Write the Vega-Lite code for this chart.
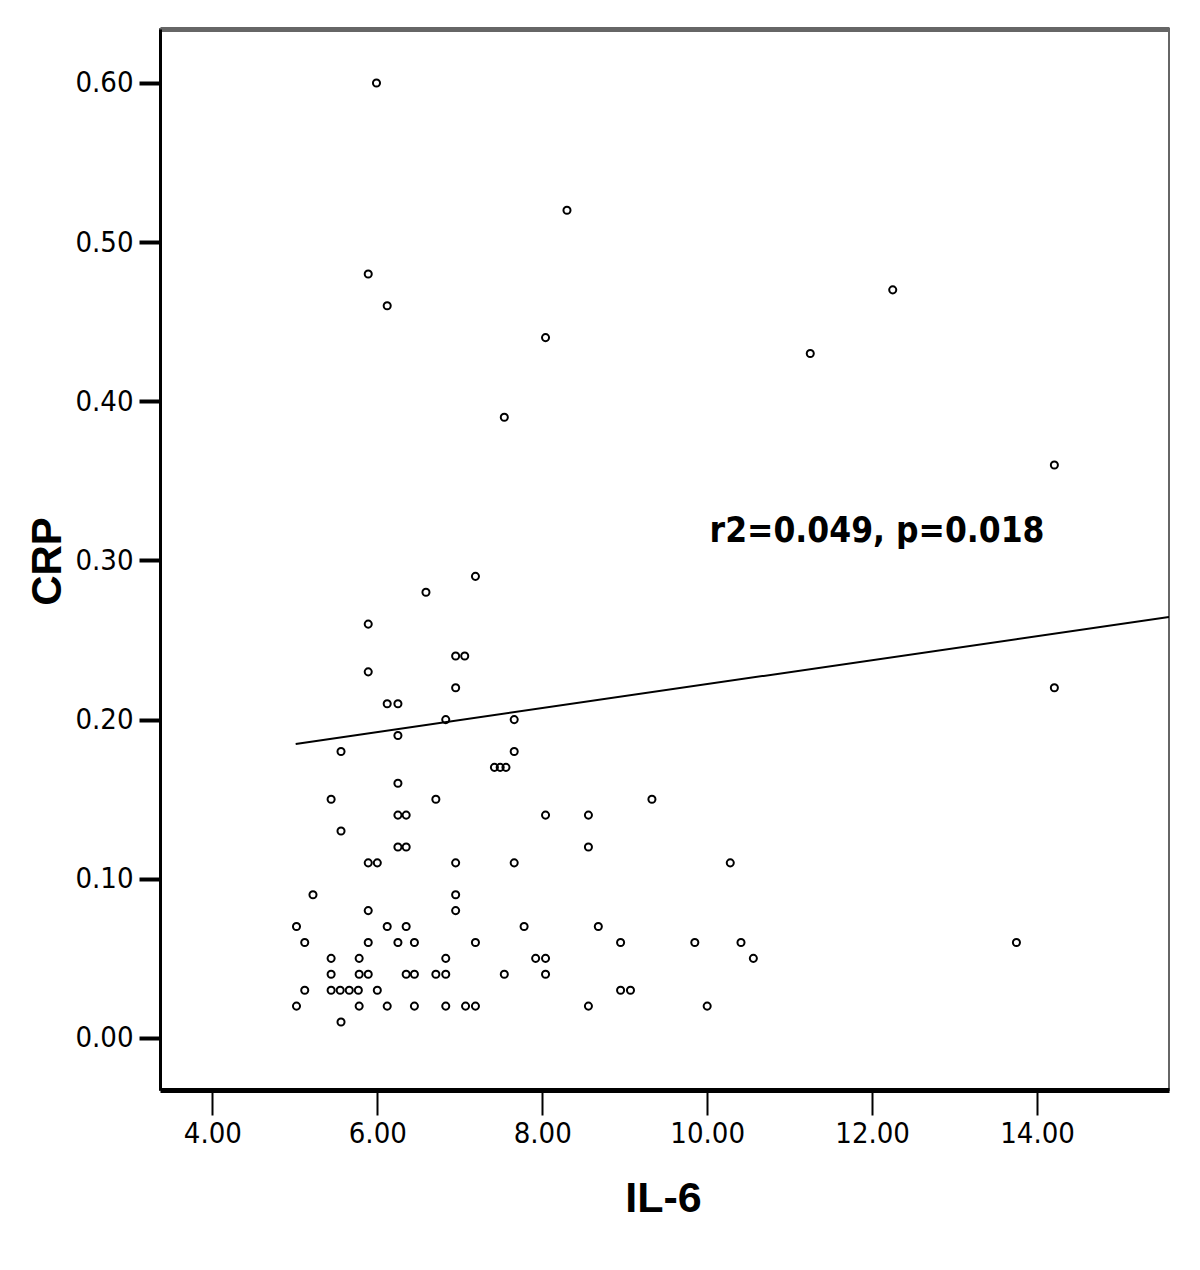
{
  "$schema": "https://vega.github.io/schema/vega-lite/v6.json",
  "width": 1009,
  "height": 1061,
  "autosize": {"type": "none"},
  "padding": {"left": 160, "top": 29, "right": 31, "bottom": 180},
  "background": "white",
  "config": {
    "view": {"stroke": "#666666", "strokeWidth": 2},
    "font": "Liberation Sans"
  },
  "datasets": {
    "pts": [
      {"il6": 5.99, "crp": 0.60},
      {"il6": 8.30, "crp": 0.52},
      {"il6": 5.89, "crp": 0.48},
      {"il6": 12.25, "crp": 0.47},
      {"il6": 6.12, "crp": 0.46},
      {"il6": 8.04, "crp": 0.44},
      {"il6": 11.25, "crp": 0.43},
      {"il6": 7.54, "crp": 0.39},
      {"il6": 14.21, "crp": 0.36},
      {"il6": 7.19, "crp": 0.29},
      {"il6": 6.59, "crp": 0.28},
      {"il6": 5.89, "crp": 0.26},
      {"il6": 6.95, "crp": 0.24},
      {"il6": 7.06, "crp": 0.24},
      {"il6": 5.89, "crp": 0.23},
      {"il6": 6.95, "crp": 0.22},
      {"il6": 14.21, "crp": 0.22},
      {"il6": 6.12, "crp": 0.21},
      {"il6": 6.25, "crp": 0.21},
      {"il6": 6.83, "crp": 0.20},
      {"il6": 7.66, "crp": 0.20},
      {"il6": 6.25, "crp": 0.19},
      {"il6": 5.56, "crp": 0.18},
      {"il6": 7.66, "crp": 0.18},
      {"il6": 7.42, "crp": 0.17},
      {"il6": 7.49, "crp": 0.17},
      {"il6": 7.56, "crp": 0.17},
      {"il6": 6.25, "crp": 0.16},
      {"il6": 5.44, "crp": 0.15},
      {"il6": 6.71, "crp": 0.15},
      {"il6": 9.33, "crp": 0.15},
      {"il6": 6.25, "crp": 0.14},
      {"il6": 6.35, "crp": 0.14},
      {"il6": 8.04, "crp": 0.14},
      {"il6": 8.56, "crp": 0.14},
      {"il6": 5.56, "crp": 0.13},
      {"il6": 6.25, "crp": 0.12},
      {"il6": 6.35, "crp": 0.12},
      {"il6": 8.56, "crp": 0.12},
      {"il6": 5.89, "crp": 0.11},
      {"il6": 6.00, "crp": 0.11},
      {"il6": 6.95, "crp": 0.11},
      {"il6": 7.66, "crp": 0.11},
      {"il6": 10.28, "crp": 0.11},
      {"il6": 5.22, "crp": 0.09},
      {"il6": 6.95, "crp": 0.09},
      {"il6": 5.89, "crp": 0.08},
      {"il6": 6.95, "crp": 0.08},
      {"il6": 5.02, "crp": 0.07},
      {"il6": 6.12, "crp": 0.07},
      {"il6": 6.35, "crp": 0.07},
      {"il6": 7.78, "crp": 0.07},
      {"il6": 8.68, "crp": 0.07},
      {"il6": 5.12, "crp": 0.06},
      {"il6": 5.89, "crp": 0.06},
      {"il6": 6.25, "crp": 0.06},
      {"il6": 6.45, "crp": 0.06},
      {"il6": 7.19, "crp": 0.06},
      {"il6": 8.95, "crp": 0.06},
      {"il6": 9.85, "crp": 0.06},
      {"il6": 10.41, "crp": 0.06},
      {"il6": 13.75, "crp": 0.06},
      {"il6": 5.44, "crp": 0.05},
      {"il6": 5.78, "crp": 0.05},
      {"il6": 6.83, "crp": 0.05},
      {"il6": 7.92, "crp": 0.05},
      {"il6": 8.04, "crp": 0.05},
      {"il6": 10.56, "crp": 0.05},
      {"il6": 5.44, "crp": 0.04},
      {"il6": 5.78, "crp": 0.04},
      {"il6": 5.89, "crp": 0.04},
      {"il6": 6.35, "crp": 0.04},
      {"il6": 6.45, "crp": 0.04},
      {"il6": 6.71, "crp": 0.04},
      {"il6": 6.83, "crp": 0.04},
      {"il6": 7.54, "crp": 0.04},
      {"il6": 8.04, "crp": 0.04},
      {"il6": 5.12, "crp": 0.03},
      {"il6": 5.44, "crp": 0.03},
      {"il6": 5.55, "crp": 0.03},
      {"il6": 5.66, "crp": 0.03},
      {"il6": 5.77, "crp": 0.03},
      {"il6": 6.00, "crp": 0.03},
      {"il6": 8.95, "crp": 0.03},
      {"il6": 9.07, "crp": 0.03},
      {"il6": 5.02, "crp": 0.02},
      {"il6": 5.78, "crp": 0.02},
      {"il6": 6.12, "crp": 0.02},
      {"il6": 6.45, "crp": 0.02},
      {"il6": 6.83, "crp": 0.02},
      {"il6": 7.07, "crp": 0.02},
      {"il6": 7.19, "crp": 0.02},
      {"il6": 8.56, "crp": 0.02},
      {"il6": 10.00, "crp": 0.02},
      {"il6": 5.56, "crp": 0.01}
    ],
    "fit": [
      {"il6": 5.01, "crp": 0.1847},
      {"il6": 15.6, "crp": 0.2645}
    ],
    "note": [
      {"il6": 12.06, "crp": 0.3185, "label": "r2=0.049, p=0.018"}
    ]
  },
  "resolve": {"axis": {"x": "independent"}},
  "layer": [
    {
      "data": {"name": "pts"},
      "mark": {"type": "point", "shape": "circle", "filled": false, "stroke": "black", "strokeWidth": 2, "size": 50, "opacity": 1},
      "encoding": {
        "x": {
          "field": "il6", "type": "quantitative",
          "scale": {"domain": [3.365, 15.6], "nice": false, "zero": false},
          "axis": {
            "title": "IL-6", "values": [4, 6, 8, 10, 12, 14], "format": ".2f",
            "grid": false, "domainColor": "black", "domainWidth": 5,
            "tickColor": "black", "tickWidth": 2, "tickSize": 25,
            "labelFont": "DejaVu Sans Condensed, DejaVu Sans, sans-serif", "labelFontSize": 29, "labelColor": "black",
            "labelPadding": 4,
            "titleFont": "Liberation Sans", "titleFontWeight": "bold", "titleFontSize": 43, "titleColor": "black",
            "titleX": 503, "titleY": 108, "titleBaseline": "middle", "titleAlign": "center"
          }
        },
        "y": {
          "field": "crp", "type": "quantitative",
          "scale": {"domain": [-0.0327, 0.6339], "nice": false, "zero": false},
          "axis": {
            "title": "CRP", "values": [0, 0.1, 0.2, 0.3, 0.4, 0.5, 0.6], "format": ".2f",
            "grid": false, "domainColor": "black", "domainWidth": 3,
            "tickColor": "black", "tickWidth": 4, "tickSize": 21,
            "labelFont": "DejaVu Sans Condensed, DejaVu Sans, sans-serif", "labelFontSize": 29, "labelColor": "black",
            "labelPadding": 6,
            "titleFont": "Liberation Sans", "titleFontWeight": "bold", "titleFontSize": 42, "titleColor": "black",
            "titleX": -113, "titleY": 532, "titleAngle": -90, "titleBaseline": "middle", "titleAlign": "center"
          }
        }
      }
    },
    {
      "data": {"name": "fit"},
      "mark": {"type": "line", "color": "black", "strokeWidth": 2, "clip": true},
      "encoding": {
        "x": {
          "field": "il6", "type": "quantitative",
          "scale": {"domain": [3.365, 15.6], "nice": false, "zero": false},
          "axis": {"orient": "top", "title": null, "labels": false, "ticks": false, "grid": false, "domainColor": "#666666", "domainWidth": 5}
        },
        "y": {"field": "crp", "type": "quantitative"}
      }
    },
    {
      "data": {"name": "note"},
      "mark": {"type": "text", "font": "DejaVu Sans Condensed, DejaVu Sans, sans-serif", "fontWeight": "bold", "fontSize": 35, "color": "black", "align": "center", "baseline": "middle"},
      "encoding": {
        "x": {"field": "il6", "type": "quantitative", "axis": null},
        "y": {"field": "crp", "type": "quantitative"},
        "text": {"field": "label"}
      }
    }
  ]
}
